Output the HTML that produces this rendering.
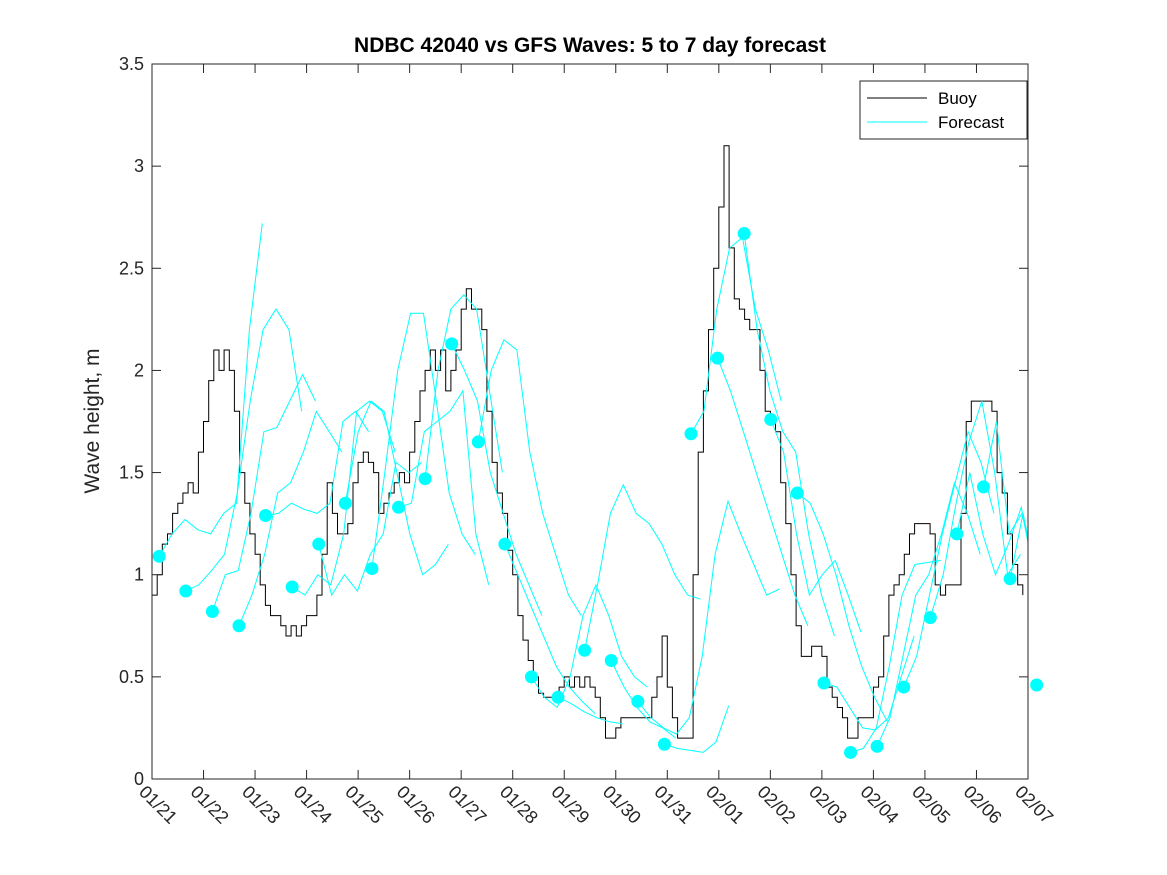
<!DOCTYPE html>
<html><head><meta charset="utf-8">
<style>
html,body{margin:0;padding:0;background:#fff;}
svg{display:block;font-family:"Liberation Sans",sans-serif;}
</style></head>
<body>
<svg id="chart" width="1167" height="875" viewBox="0 0 1167 875" xmlns="http://www.w3.org/2000/svg">
<defs><clipPath id="axclip"><rect x="152" y="64" width="876" height="715"/></clipPath></defs>
<rect x="0" y="0" width="1167" height="875" fill="#fff"/>
<text x="590" y="52" text-anchor="middle" font-size="21" font-weight="bold" fill="#000">NDBC 42040 vs GFS Waves: 5 to 7 day forecast</text>
<text transform="translate(99,421) rotate(-90)" text-anchor="middle" font-size="21" fill="#262626">Wave height, m</text>
<g id="plot" clip-path="url(#axclip)"></g>
<g id="dots"></g>
<rect x="152" y="64" width="876" height="715" fill="none" stroke="#262626" stroke-width="1"/>
<g>
<rect x="860" y="81" width="167" height="58" fill="#fff" stroke="#262626" stroke-width="1"/>
<line x1="867" y1="98" x2="927" y2="98" stroke="#000" stroke-width="1"/>
<text x="938" y="104" font-size="17" fill="#000">Buoy</text>
<line x1="867" y1="122" x2="927" y2="122" stroke="#00ffff" stroke-width="1"/>
<text x="938" y="128" font-size="17" fill="#000">Forecast</text>
</g>
</svg>
<script>
const xTickLabels=["01/21","01/22","01/23","01/24","01/25","01/26","01/27","01/28","01/29","01/30","01/31","02/01","02/02","02/03","02/04","02/05","02/06","02/07"];
const yTicks=[0,0.5,1,1.5,2,2.5,3,3.5];
const yTickLabels=["0","0.5","1","1.5","2","2.5","3","3.5"];
// buoy: values every 0.1 day from day 0
const buoyStep=0.1;
const buoyVals=[0.9,1.0,1.15,1.2,1.3,1.35,1.4,1.45,1.4,1.6,1.75,1.95,2.1,2.0,2.1,2.0,1.8,1.5,1.35,1.2,
1.1,0.95,0.85,0.8,0.8,0.75,0.7,0.75,0.7,0.75,0.8,0.8,0.9,1.1,1.45,1.3,1.2,1.2,1.25,1.45,
1.55,1.6,1.55,1.5,1.3,1.35,1.4,1.45,1.5,1.45,1.6,1.75,1.9,2.0,2.1,2.0,2.1,1.9,2.0,2.1,
2.3,2.4,2.3,2.3,2.2,1.8,1.55,1.4,1.3,1.12,1.0,0.8,0.68,0.58,0.5,0.42,0.4,0.4,0.4,0.45,
0.5,0.45,0.5,0.45,0.5,0.45,0.4,0.3,0.2,0.2,0.25,0.3,0.3,0.3,0.3,0.3,0.3,0.4,0.5,0.7,
0.45,0.3,0.2,0.2,0.2,1.0,1.6,1.9,2.2,2.5,2.8,3.1,2.6,2.35,2.3,2.25,2.2,2.2,2.0,1.8,
1.75,1.7,1.45,1.25,1.0,0.75,0.6,0.6,0.65,0.65,0.6,0.45,0.4,0.35,0.3,0.2,0.2,0.3,0.3,0.3,
0.45,0.5,0.7,0.9,0.95,1.0,1.1,1.2,1.25,1.25,1.25,1.2,0.95,0.9,0.95,0.95,0.95,1.3,1.75,1.85,
1.85,1.85,1.85,1.8,1.5,1.4,1.2,1.05,0.95,0.9];
// forecasts: start day = fcFirst + k*fcGap, values every 0.25 day
const fcFirst=0.14, fcGap=0.516, fcStep=0.25;
const fcVals=[
[1.09,1.2,1.27,1.22,1.2,1.3,1.35,2.2,2.72],
[0.92,0.95,1.02,1.1,1.4,1.85,2.2,2.3,2.2,1.8],
[0.82,1.0,1.02,1.3,1.7,1.72,1.85,1.98,1.85],
[0.75,0.9,1.1,1.4,1.45,1.6,1.8,1.7,1.6],
[1.29,1.3,1.35,1.32,1.3,1.35,1.75,1.8,1.7],
[0.94,0.9,1.0,0.95,1.2,1.8,1.85,1.8,1.6],
[1.15,0.9,1.0,0.92,1.1,1.2,1.55,1.5,1.55],
[1.35,1.7,1.85,1.8,1.5,1.2,1.0,1.05,1.15],
[1.03,1.5,2.0,2.28,2.28,1.85,1.4,1.2,1.1],
[1.33,1.35,1.7,1.75,1.8,1.9,1.2,0.95],
[1.47,2.0,2.3,2.37,2.3,1.9,1.5],
[2.13,2.0,1.85,1.5,1.3,1.1,0.95,0.8],
[1.65,2.0,2.15,2.1,1.6,1.3,1.1,0.9,0.8],
[1.15,1.0,0.85,0.7,0.55,0.45,0.38,0.32],
[0.50,0.4,0.35,0.5,0.8,0.95,0.8,0.6,0.5,0.45],
[0.40,0.37,0.33,0.3,0.28,0.27],
[0.63,0.95,1.3,1.44,1.3,1.25,1.15,1.0,0.9,0.88],
[0.58,0.45,0.35,0.28,0.25,0.2],
[0.38,0.3,0.25,0.22,0.3,0.6,1.1,1.36,1.2,1.05,0.9,0.93],
[0.17,0.15,0.14,0.13,0.18,0.36],
[1.69,1.8,2.3,2.6,2.65,2.3,2.1,1.85],
[2.06,1.9,1.7,1.5,1.3,1.1,0.9,0.75],
[2.67,2.2,1.9,1.7,1.6,1.2,0.9,0.7],
[1.76,1.6,1.2,0.9,1.0,1.07,0.9,0.72],
[1.40,1.35,1.2,1.0,0.75,0.55,0.4,0.28],
[0.47,0.45,0.35,0.25,0.24,0.3,0.5,0.7],
[0.13,0.15,0.25,0.55,0.9,1.05,1.06,1.07],
[0.16,0.3,0.6,0.9,1.0,1.2,1.45,1.3,1.1],
[0.45,0.6,0.9,1.2,1.45,1.7,1.55,1.3],
[0.79,1.0,1.35,1.65,1.85,1.5,1.0,1.1],
[1.20,1.5,1.2,1.0,1.15,1.33,1.0,0.7],
[1.43,1.75,1.2,1.3,1.0,0.6,0.45,0.55],
[0.98,1.3,1.0,0.7,0.45,0.4,0.6,0.9],
[0.46,0.4,0.5,0.65,0.93]
];
const X0=152,X1=1028,Y0=779,Y1=64,DAYS=17,YMAX=3.5;
function xs(d){return X0+(X1-X0)*d/DAYS;}
function ys(v){return Y0-(Y0-Y1)*v/YMAX;}
const NS="http://www.w3.org/2000/svg";
const plot=document.getElementById('plot');
const dots=document.getElementById('dots');
const svg=document.getElementById('chart');
function mk(t,a){const e=document.createElementNS(NS,t);for(const k in a)e.setAttribute(k,a[k]);return e;}
yTicks.forEach((v,i)=>{
  const y=ys(v);
  const t1=mk('line',{x1:X0,y1:y,x2:X0+9,y2:y,stroke:'#262626'});
  
  
  svg.appendChild(t1);
  const t2=mk('line',{x1:X1-9,y1:y,x2:X1,y2:y,stroke:'#262626'});
  
  
  svg.appendChild(t2);
  const tx=mk('text',{x:X0-8,y:y+6,'text-anchor':'end','font-size':'18',fill:'#262626'});
  tx.textContent=yTickLabels[i];
  
  
  svg.appendChild(tx);
});
xTickLabels.forEach((lab,i)=>{
  const x=xs(i);
  const t1=mk('line',{x1:x,y1:Y0,x2:x,y2:Y0-9,stroke:'#262626'});
  
  
  svg.appendChild(t1);
  const t2=mk('line',{x1:x,y1:Y1,x2:x,y2:Y1+9,stroke:'#262626'});
  
  
  svg.appendChild(t2);
  const tx=mk('text',{x:0,y:0,'font-size':'18',fill:'#262626',transform:`translate(${x-14},${Y0+14}) rotate(45)`});
  tx.textContent=lab;
  
  
  svg.appendChild(tx);
});
let d='';
buoyVals.forEach((v,i)=>{const x=xs(i*buoyStep),y=ys(v);d+=(i?`H${x.toFixed(1)}V${y.toFixed(1)}`:`M${x.toFixed(1)},${y.toFixed(1)}`);});
const bl=mk('path',{d:d,fill:'none',stroke:'#000','stroke-width':'1'});


plot.appendChild(bl);
fcVals.forEach((vals,k)=>{
  const s=fcFirst+k*fcGap;
  const pts=vals.map((v,j)=>`${xs(s+j*fcStep).toFixed(1)},${ys(v).toFixed(1)}`).join(' ');
  const pl=mk('polyline',{points:pts,fill:'none',stroke:'#00ffff','stroke-width':'1'});
  
  
  plot.appendChild(pl);
});
fcVals.forEach((vals,k)=>{
  const c=mk('circle',{cx:xs(fcFirst+k*fcGap),cy:ys(vals[0]),r:6.5,fill:'#00ffff'});
  
  
  dots.appendChild(c);
});
</script>
</body></html>
